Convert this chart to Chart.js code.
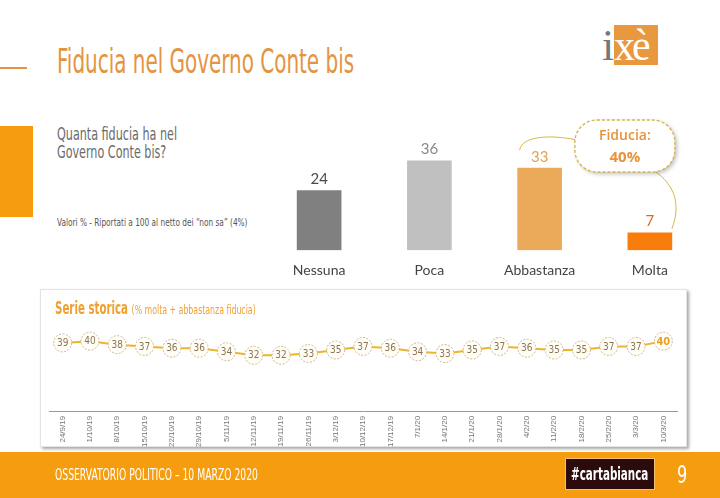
<!DOCTYPE html>
<html lang="it">
<head>
<meta charset="UTF-8" />
<title>Fiducia nel Governo Conte bis</title>
<script src="https://cdn.jsdelivr.net/npm/chart.js"></script>
<style>
  body {
    margin: 0;
    width: 720px;
    height: 498px;
    position: relative;
    overflow: hidden;
    background: #fff;
    font-family: 'Liberation Sans Narrow', 'DejaVu Sans Condensed', sans-serif;
  }
  .abs { position: absolute; white-space: nowrap; }
  .squeeze { transform-origin: left top; }

  #title { left: 57px; top: 44px; font-size: 34px; line-height: 1; color: #e39442; transform: scaleX(0.652); }
  #titleRule { left: 0; top: 67px; width: 27px; height: 2px; background: #e39442; }

  #logoBox { left: 614px; top: 25px; width: 44px; height: 40px; background: #e8993f; }
  #logoI { left: 602px; top: 24px; font-family: 'Liberation Serif', serif; font-size: 44px; line-height: 1; color: #777; }
  #logoXe { left: 614px; top: 24px; font-family: 'Liberation Serif', serif; font-size: 44px; line-height: 1; color: #fff; letter-spacing: -3px; transform: scaleX(0.95); transform-origin: left top; }

  #sideBlock { left: 0; top: 126px; width: 33px; height: 91px; background: #f59d0e; }
  #question { left: 57px; top: 125px; font-size: 18px; line-height: 18px; color: #6a6a6a; transform: scaleX(0.69); }
  #note { left: 57px; top: 216px; font-size: 11px; color: #555; transform: scaleX(0.745); }

  #barWrap { left: 250px; top: 100px; width: 460px; height: 195px; }

  #panel {
    left: 40px; top: 289px; width: 645px; height: 156px;
    border: 1px solid #e4e4e4;
    box-shadow: 2px 2px 3px rgba(0,0,0,0.35);
    background: #fff;
  }
  #seriesTitle { left: 55px; top: 298px; font-size: 17px; font-weight: bold; color: #f0a030; transform: scaleX(0.67); }
  #seriesSub { font-weight: normal; font-size: 13px; }
  #lineWrap { left: 40px; top: 318px; width: 646px; height: 133px; }

  #footer { left: 0; top: 452px; width: 720px; height: 46px; background: #f59d0e; }
  #footText { left: 55px; top: 466px; font-size: 15px; color: #fff; transform: scaleX(0.685); }
  #tag {
    left: 565px; top: 458px; width: 88px; height: 30px;
    background: #2b0b0b; border: 1px solid #f5c070;
  }
  #tagText { left: 571px; top: 463px; font-size: 18px; font-weight: bold; color: #fff; transform: scaleX(0.64); }
  #pageNo { left: 677px; top: 461px; font-size: 24px; color: #fff; transform: scaleX(0.75); }
</style>
</head>
<body>
  <div class="abs" id="titleRule"></div>
  <div class="abs squeeze" id="title">Fiducia nel Governo Conte bis</div>

  <div class="abs" id="logoBox"></div>
  <div class="abs" id="logoI">i</div>
  <div class="abs" id="logoXe">xè</div>

  <div class="abs" id="sideBlock"></div>
  <div class="abs squeeze" id="question">Quanta fiducia ha nel<br>Governo Conte bis?</div>
  <div class="abs squeeze" id="note">Valori % - Riportati a 100 al netto dei “non sa” (4%)</div>

  <div class="abs" id="barWrap"><canvas id="barChart"></canvas></div>

  <div class="abs" id="panel"></div>
  <div class="abs squeeze" id="seriesTitle">Serie storica <span id="seriesSub">(% molta + abbastanza fiducia)</span></div>
  <div class="abs" id="lineWrap"><canvas id="lineChart"></canvas></div>

  <div class="abs" id="footer"></div>
  <div class="abs squeeze" id="footText">OSSERVATORIO POLITICO – 10 MARZO 2020</div>
  <div class="abs" id="tag"></div>
  <div class="abs squeeze" id="tagText">#cartabianca</div>
  <div class="abs squeeze" id="pageNo">9</div>

  <script>
    // Quanta fiducia ha nel Governo Conte bis?
    const categories = ['Nessuna', 'Poca', 'Abbastanza', 'Molta'];
    const shares = [24, 36, 33, 7];
    const fiduciaTotal = '40%';

    // Serie storica (% molta + abbastanza fiducia)
    const dates = ['24/9/19', '1/10/19', '8/10/19', '15/10/19', '22/10/19', '29/10/19', '5/11/19',
      '12/11/19', '19/11/19', '26/11/19', '3/12/19', '10/12/19', '17/12/19', '7/1/20', '14/1/20',
      '21/1/20', '28/1/20', '4/2/20', '11/2/20', '18/2/20', '25/2/20', '3/3/20', '10/3/20'];
    const trust = [39, 40, 38, 37, 36, 36, 34, 32, 32, 33, 35, 37, 36, 34, 33, 35, 37, 36, 35, 35, 37, 37, 40];

    const barColors = ['#808080', '#c0c0c0', '#eba95a', '#f97d0a'];
    const labelColors = ['#4a4a4a', '#8a8a8a', '#e8a050', '#e0651a'];

    // numbers above the bars
    const barValues = {
      id: 'barValues',
      afterDatasetsDraw(chart) {
        const ctx = chart.ctx;
        ctx.save();
        ctx.font = '15px Lato, sans-serif';
        ctx.textAlign = 'center';
        ctx.textBaseline = 'bottom';
        chart.getDatasetMeta(0).data.forEach((bar, i) => {
          ctx.fillStyle = labelColors[i];
          ctx.fillText(shares[i], bar.x, bar.y - 4);
        });
        ctx.restore();
      }
    };

    // the "Fiducia: 40%" bubble joining Abbastanza and Molta
    const callout = {
      id: 'callout',
      afterDraw(chart) {
        const ctx = chart.ctx;
        const bars = chart.getDatasetMeta(0).data;
        const abb = bars[2], mol = bars[3];
        const w = 100, h = 52;
        const bx = mol.x - 75, by = chart.chartArea.top + 9;

        ctx.save();
        ctx.strokeStyle = '#d8b44a';
        ctx.lineWidth = 1;
        ctx.beginPath();
        ctx.moveTo(abb.x - 20, abb.y - 18);
        ctx.bezierCurveTo(abb.x - 18, abb.y - 32, abb.x + 10, abb.y - 34, bx + 2, by + 20);
        ctx.stroke();
        ctx.beginPath();
        ctx.moveTo(bx + 78, by + h - 2);
        ctx.bezierCurveTo(mol.x + 28, by + h + 14, mol.x + 30, mol.y - 25, mol.x + 22, mol.y - 4);
        ctx.stroke();

        ctx.shadowColor = 'rgba(0,0,0,0.25)';
        ctx.shadowBlur = 4;
        ctx.shadowOffsetX = 2;
        ctx.shadowOffsetY = 2;
        ctx.fillStyle = '#fff';
        ctx.beginPath();
        ctx.roundRect(bx, by, w, h, 22);
        ctx.fill();
        ctx.shadowColor = 'transparent';
        ctx.setLineDash([3, 2]);
        ctx.lineWidth = 1.4;
        ctx.stroke();

        ctx.fillStyle = '#e8923a';
        ctx.textAlign = 'center';
        ctx.textBaseline = 'middle';
        ctx.font = '600 14px "Open Sans", sans-serif';
        ctx.fillText('Fiducia:', bx + w / 2, by + 16);
        ctx.font = 'bold 15px "Open Sans", sans-serif';
        ctx.fillText(fiduciaTotal, bx + w / 2, by + 38);
        ctx.restore();
      }
    };

    new Chart(document.getElementById('barChart'), {
      type: 'bar',
      data: {
        labels: categories,
        datasets: [{
          data: shares,
          backgroundColor: barColors,
          barThickness: 44
        }]
      },
      options: {
        responsive: true,
        maintainAspectRatio: false,
        animation: false,
        layout: { padding: { left: 14, right: 5, top: 11, bottom: 4 } },
        plugins: { legend: { display: false }, tooltip: { enabled: false } },
        scales: {
          x: {
            grid: { display: false, drawTicks: false },
            border: { display: false },
            ticks: { padding: 12, color: '#444', font: { family: 'Lato', size: 14 } }
          },
          y: { display: false, min: 0, max: 56 }
        }
      },
      plugins: [barValues, callout]
    });

    // numbers inside the round markers
    const pointValues = {
      id: 'pointValues',
      afterDatasetsDraw(chart) {
        const ctx = chart.ctx;
        const pts = chart.getDatasetMeta(0).data;
        ctx.save();
        ctx.textAlign = 'center';
        ctx.textBaseline = 'middle';
        pts.forEach((p, i) => {
          ctx.setLineDash([2, 1.5]);
          ctx.strokeStyle = '#c9b68f';
          ctx.lineWidth = 1;
          ctx.beginPath();
          ctx.arc(p.x, p.y, 9, 0, Math.PI * 2);
          ctx.stroke();
          const last = i === pts.length - 1;
          ctx.fillStyle = last ? '#e8a020' : '#8a7550';
          ctx.font = (last ? 'bold 11px' : '10px') + ' "Liberation Sans Narrow", "DejaVu Sans Condensed", sans-serif';
          ctx.fillText(trust[i], p.x, p.y + 0.5);
        });
        ctx.restore();
      }
    };

    new Chart(document.getElementById('lineChart'), {
      type: 'line',
      data: {
        labels: dates,
        datasets: [{
          data: trust,
          borderColor: '#f0b428',
          borderWidth: 2,
          pointRadius: 9,
          pointBackgroundColor: '#fffdf6',
          pointBorderColor: '#fffdf6',
          pointBorderWidth: 0,
          tension: 0
        }]
      },
      options: {
        responsive: true,
        maintainAspectRatio: false,
        animation: false,
        layout: { padding: { left: 9, right: 7, top: 2, bottom: 0 } },
        plugins: { legend: { display: false }, tooltip: { enabled: false } },
        scales: {
          x: {
            offset: true,
            grid: { display: false, drawTicks: false },
            border: { display: true, color: '#9a9a9a', width: 1 },
            ticks: {
              minRotation: 90,
              maxRotation: 90,
              padding: 4,
              autoSkip: false,
              color: '#777',
              font: { family: 'Liberation Sans', size: 8 }
            }
          },
          y: { display: false, min: 0, max: 48 }
        }
      },
      plugins: [pointValues]
    });
  </script>
</body>
</html>
